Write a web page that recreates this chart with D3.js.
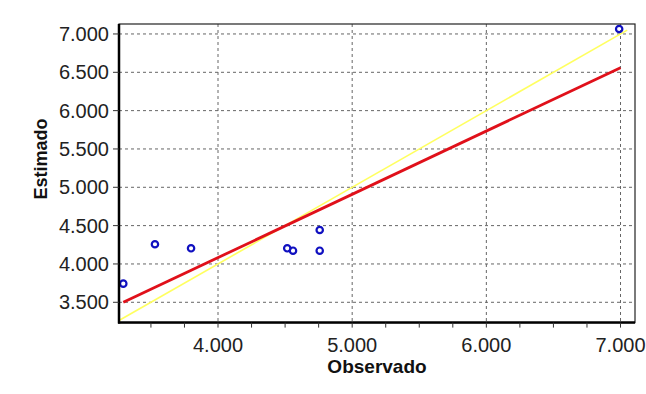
<!DOCTYPE html>
<meta charset="utf-8">
<style>
body { margin: 0; background: #fff; }
svg { font-family: "Liberation Sans", Arial, sans-serif; }
.grid line { stroke: #666; stroke-width: 1px; stroke-dasharray: 3,3; }
.tick-label { font-size: 20px; fill: #222; }
.title { font-size: 19px; font-weight: bold; fill: #111; }
</style>
<body>
<script src="https://cdn.jsdelivr.net/npm/d3@7"></script>
<script>
// observed vs. estimated values
var observado = [3294, 3530, 3799, 4516, 4559, 4758, 4758, 6990];
var estimado  = [3743, 4257, 4204, 4204, 4173, 4443, 4173, 7065];

// fitted regression line (red) and 1:1 line (yellow)
var regX = [3294, 7000], regY = [3500, 6560];
var idX = [3265, 7050];

var xTicks = [4000, 5000, 6000, 7000];
var xMinor = d3.range(3500, 7001, 250);
var yTicks = d3.range(3500, 7001, 500);

var width = 646, height = 394;
var x = d3.scaleLinear().domain([3262, 7108]).range([119, 635]);
var y = d3.scaleLinear().domain([3235, 7130]).range([322.6, 24]);

var fmt = function(v) { return d3.format(",")(v).replace(",", "."); };

var svg = d3.select("body").append("svg")
    .attr("width", width)
    .attr("height", height);

var grid = svg.append("g").attr("class", "grid");
grid.selectAll(".gx").data(xTicks).enter().append("line")
    .attr("x1", d => x(d)).attr("x2", d => x(d))
    .attr("y1", y.range()[1]).attr("y2", y.range()[0]);
grid.selectAll(".gy").data(yTicks).enter().append("line")
    .attr("x1", x.range()[0]).attr("x2", x.range()[1])
    .attr("y1", d => y(d)).attr("y2", d => y(d));

// 1:1 line
svg.append("line")
    .attr("x1", x(idX[0])).attr("y1", y(idX[0]))
    .attr("x2", x(idX[1])).attr("y2", y(idX[1]))
    .attr("stroke", "#ffff60").attr("stroke-width", 1.6);

// regression line
svg.append("line")
    .attr("x1", x(regX[0])).attr("y1", y(regY[0]))
    .attr("x2", x(regX[1])).attr("y2", y(regY[1]))
    .attr("stroke", "#e0101a").attr("stroke-width", 2.8);

svg.selectAll(".pt").data(observado).enter().append("circle")
    .attr("cx", d => x(d))
    .attr("cy", (d, i) => y(estimado[i]))
    .attr("r", 3.2)
    .attr("fill", "none")
    .attr("stroke", "#1010c0")
    .attr("stroke-width", 2.2);

// frame
var x0 = x.range()[0], x1 = x.range()[1], y0 = y.range()[0], y1 = y.range()[1];
svg.append("rect")
    .attr("x", x0).attr("y", y1)
    .attr("width", x1 - x0).attr("height", y0 - y1)
    .attr("fill", "none").attr("stroke", "#222").attr("stroke-width", 1.2);
svg.append("line").attr("x1", x0).attr("x2", x0).attr("y1", y1).attr("y2", y0 + 1)
    .attr("stroke", "#000").attr("stroke-width", 2.5);
svg.append("line").attr("x1", x0 - 1).attr("x2", x1).attr("y1", y0).attr("y2", y0)
    .attr("stroke", "#000").attr("stroke-width", 2.5);

// x axis ticks
svg.selectAll(".xt").data(xMinor).enter().append("line")
    .attr("x1", d => x(d)).attr("x2", d => x(d))
    .attr("y1", y0).attr("y2", y0 + 5)
    .attr("stroke", "#333").attr("stroke-width", 1);
svg.selectAll(".xl").data(xTicks).enter().append("text")
    .attr("class", "tick-label")
    .attr("x", d => x(d)).attr("y", 352)
    .attr("text-anchor", "middle")
    .text(fmt);

// y axis ticks
svg.selectAll(".yt").data(yTicks).enter().append("line")
    .attr("x1", x0 - 6).attr("x2", x0)
    .attr("y1", d => y(d)).attr("y2", d => y(d))
    .attr("stroke", "#333").attr("stroke-width", 1);
svg.selectAll(".yl").data(yTicks).enter().append("text")
    .attr("class", "tick-label")
    .attr("x", 109).attr("y", d => y(d) + 7.2)
    .attr("text-anchor", "end")
    .text(fmt);

svg.append("text").attr("class", "title")
    .attr("x", 377).attr("y", 373)
    .attr("text-anchor", "middle")
    .text("Observado");
svg.append("text").attr("class", "title")
    .attr("transform", "translate(47,159) rotate(-90)")
    .attr("text-anchor", "middle")
    .style("font-size", "18px")
    .text("Estimado");
</script>
